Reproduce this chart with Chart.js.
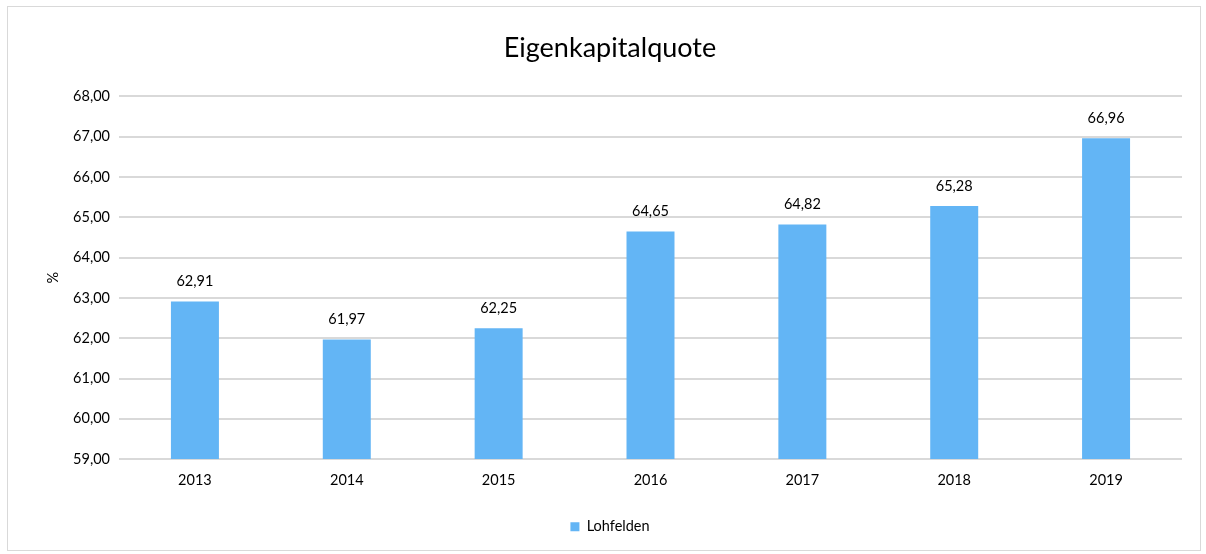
<!DOCTYPE html>
<html>
<head>
<meta charset="utf-8">
<script src="https://cdn.jsdelivr.net/npm/chart.js@4.4.1/dist/chart.umd.min.js"></script>
<style>
html,body{margin:0;padding:0;background:#fff;}
#box{position:absolute;left:7px;top:6px;width:1192px;height:543px;border:1px solid #d9d9d9;background:#fff;}
canvas{display:block;}
</style>
</head>
<body>
<div id="box"><canvas id="c" width="1192" height="543"></canvas></div>
<script>
const categories = ['2013','2014','2015','2016','2017','2018','2019'];
const seriesName = 'Lohfelden';
const values = [62.91, 61.97, 62.25, 64.65, 64.82, 65.28, 66.96];
const yMin = 59, yMax = 68, yStep = 1;
const chartTitle = 'Eigenkapitalquote';
const yTitle = '%';

const FONT = 'Lato, "Open Sans", sans-serif';
const fmt = v => v.toFixed(2).replace('.', ',');

const dataLabels = {
  id: 'dataLabels',
  afterDatasetsDraw(chart) {
    const ctx = chart.ctx;
    ctx.save();
    ctx.font = '14.5px ' + FONT;
    ctx.fillStyle = '#000';
    ctx.textAlign = 'center';
    ctx.textBaseline = 'middle';
    chart.getDatasetMeta(0).data.forEach((el, i) => {
      ctx.fillText(fmt(chart.data.datasets[0].data[i]), el.x, el.y - 20);
    });
    ctx.restore();
  }
};

new Chart(document.getElementById('c'), {
  type: 'bar',
  data: {
    labels: categories,
    datasets: [{
      label: seriesName,
      data: values,
      backgroundColor: '#63b5f5',
      borderWidth: 0,
      barPercentage: 1,
      categoryPercentage: 0.316
    }]
  },
  options: {
    responsive: false,
    animation: false,
    devicePixelRatio: 1,
    layout: { padding: { left: 30, right: 18, top: 9, bottom: 6 } },
    plugins: {
      title: {
        display: true,
        text: chartTitle,
        color: '#000',
        font: { family: FONT, size: 27, weight: 'normal' },
        padding: { top: 16, bottom: 32 }
      },
      legend: {
        position: 'bottom',
        labels: {
          color: '#000',
          font: { family: FONT, size: 14.5 },
          boxWidth: 9,
          boxHeight: 9,
          padding: 10
        }
      },
      tooltip: { enabled: false }
    },
    scales: {
      x: {
        grid: { display: false, drawTicks: false },
        border: { display: false },
        ticks: { color: '#000', font: { family: FONT, size: 14.5 }, padding: 13 },
        afterFit(s) { s.height += 7; }
      },
      y: {
        min: yMin, max: yMax,
        ticks: { stepSize: yStep, color: '#000', font: { family: FONT, size: 14.5 }, padding: 9, callback: v => fmt(v) },
        grid: { color: '#d9d9d9', lineWidth: 2, drawTicks: false },
        border: { display: false },
        title: { display: true, text: yTitle, color: '#000', font: { family: FONT, size: 14.5 }, padding: { top: 7, bottom: 0 } },
        afterFit(s) { s.width = 81; }
      }
    }
  },
  plugins: [dataLabels]
});
</script>
</body>
</html>
